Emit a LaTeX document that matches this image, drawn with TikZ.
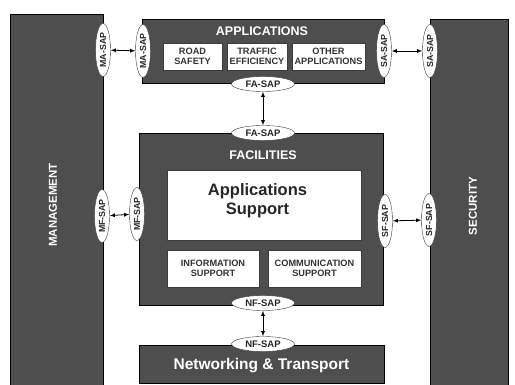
\documentclass[tikz,border=0pt]{standalone}
\usepackage{fontspec}
\setmainfont{Liberation Sans}
\usetikzlibrary{shapes.geometric}
\definecolor{panelgray}{RGB}{78,78,78}
\definecolor{edgegray}{RGB}{60,60,60}

\tikzstyle{every node}=[inner sep=0pt, font={\bfseries}]
\tikzstyle{panel}=[draw=black, fill=panelgray, thick]
\tikzstyle{subbox}=[draw=edgegray, fill=white, align=center, font={\bfseries\fontsize{9.2}{9.5}\selectfont}, text=black!80]
\tikzstyle{sap}=[ellipse, draw=edgegray, fill=white, minimum width=63pt, minimum height=15pt, font={\bfseries\fontsize{9.5}{10}\selectfont}, text=black!85]
\tikzstyle{vsap}=[sap, rotate=90, minimum width=53pt, minimum height=15pt, font={\bfseries\fontsize{8.8}{10}\selectfont}]
\tikzstyle{title}=[text=white, font={\bfseries\fontsize{12.5}{13}\selectfont}]
\tikzstyle{sidetitle}=[title, font={\bfseries\fontsize{11.5}{12}\selectfont}]

\begin{document}
\begin{tikzpicture}[x=1pt, y=-1pt, >=latex]
    \useasboundingbox (0,0) rectangle (515,385);
    \node [panel, minimum width=93pt, minimum height=372pt] (mgmt) at (56.5,200) {};
    \node [panel, minimum width=78pt, minimum height=367pt] (sec) at (469,202.5) {};
    \node [panel, minimum width=242pt, minimum height=64pt] (apps) at (263,51) {};
    \node [panel, minimum width=244pt, minimum height=172pt] (fac) at (261,219) {};
    \node [panel, minimum width=245pt, minimum height=38pt] (net) at (261.5,364) {};

    \node [sidetitle] (mgmttitle) at (53,205) {\rotatebox{90}{MANAGEMENT}};
    \node [sidetitle] (sectitle) at (473,206) {\rotatebox{90}{SECURITY}};
    \node [title] (appstitle) at (262,31) {APPLICATIONS};
    \node [title] (factitle) at (263,155) {FACILITIES};
    \node [title, font={\bfseries\fontsize{15.5}{16}\selectfont}] (nettitle) at (261.5,366) {Networking \& Transport};

    \node [subbox, minimum width=59pt, minimum height=27pt] (road) at (192.5,56.5) {ROAD\\SAFETY};
    \node [subbox, minimum width=60pt, minimum height=27pt] (traffic) at (257,56.5) {TRAFFIC\\EFFICIENCY};
    \node [subbox, minimum width=73pt, minimum height=27pt] (other) at (328.5,56.5) {OTHER\\APPLICATIONS};
    \node [subbox, minimum width=194pt, minimum height=70pt] (appsup) at (264,205) {};
    \node [align=center, text=black!85, font={\bfseries\fontsize{16.5}{19}\selectfont}] (appsuptext) at (257.5,201) {Applications\\Support};
    \node [subbox, minimum width=92pt, minimum height=37pt] (info) at (213,268.5) {INFORMATION\\SUPPORT};
    \node [subbox, minimum width=93pt, minimum height=37pt] (comm) at (314.5,268.5) {COMMUNICATION\\SUPPORT};

    \node [vsap] (ma1) at (103,50) {MA-SAP};
    \node [vsap] (ma2) at (143,51) {MA-SAP};
    \node [vsap] (sa1) at (384,51) {SA-SAP};
    \node [vsap] (sa2) at (430,51) {SA-SAP};
    \node [vsap] (mf1) at (102,216) {MF-SAP};
    \node [vsap] (mf2) at (137,214) {MF-SAP};
    \node [vsap] (sf1) at (385,221) {SF-SAP};
    \node [vsap] (sf2) at (429,220) {SF-SAP};
    \node [sap] (fa1) at (263,84) {FA-SAP};
    \node [sap] (fa2) at (263,133) {FA-SAP};
    \node [sap] (nf1) at (263,303) {NF-SAP};
    \node [sap] (nf2) at (263,344) {NF-SAP};

    \draw [<->, thick] (ma1) -- (ma2);
    \draw [<->, thick] (sa1) -- (sa2);
    \draw [<->, thick] (mf1) -- (mf2);
    \draw [<->, thick] (sf1) -- (sf2);
    \draw [<->, thick] (fa1) -- (fa2);
    \draw [<->, thick] (nf1) -- (nf2);
\end{tikzpicture}
\end{document}
